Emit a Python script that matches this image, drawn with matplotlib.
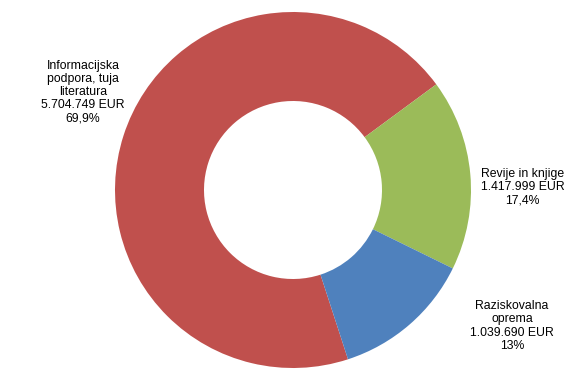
import numpy as np
import matplotlib
matplotlib.use('Agg')
import matplotlib.pyplot as plt

# data
names = ['Informacijska\npodpora, tuja\nliteratura', 'Revije in knjige', 'Raziskovalna\noprema']
amounts = [5704749, 1417999, 1039690]
amount_labels = ['5.704.749 EUR', '1.417.999 EUR', '1.039.690 EUR']
pct_labels = ['69,9%', '17,4%', '13%']
colors = ['#C0504D', '#9BBB59', '#4F81BD']

plt.rcParams['font.family'] = ['Liberation Sans', 'DejaVu Sans']

fig = plt.figure(figsize=(5.84, 3.85), dpi=100)
ax = fig.add_axes([0, 0, 1, 1])

# pie center at (293, 190) px, radius 178 px
r_px = 178.0
ax.pie(amounts, colors=colors, startangle=-72, counterclock=False,
       radius=1.0, wedgeprops=dict(width=0.5, edgecolor='none'))

ax.set_xlim(-293 / r_px, (584 - 293) / r_px)
ax.set_ylim(-(385 - 190) / r_px, 190 / r_px)
ax.set_aspect('equal')
ax.axis('off')

# label positions (data units)
label_pos = [(-1.18, 0.55), (1.29, 0.017), (1.23, -0.764)]
for (x, y), n, a, p in zip(label_pos, names, amount_labels, pct_labels):
    ax.text(x, y, n + '\n' + a + '\n' + p, ha='center', va='center',
            fontsize=8.8, linespacing=1.12, color='black')

fig.savefig('out.png', dpi=100)
